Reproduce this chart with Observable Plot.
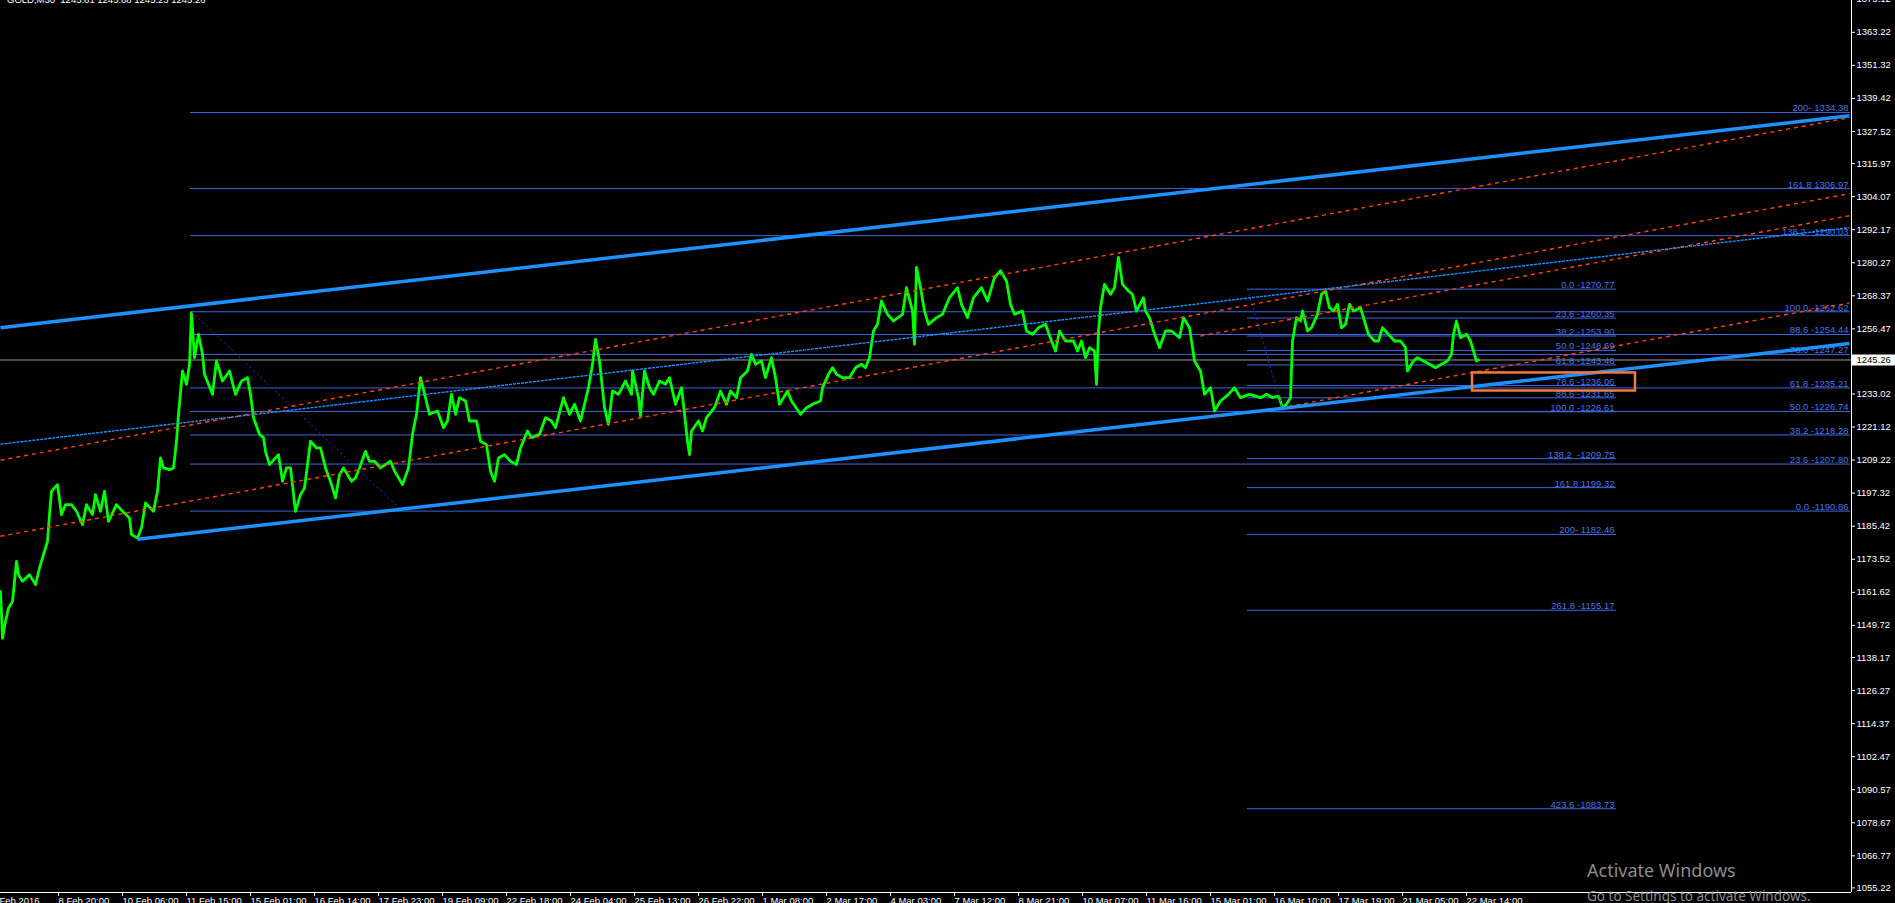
<!DOCTYPE html>
<html><head><meta charset="utf-8">
<script src="https://cdn.jsdelivr.net/npm/d3@7"></script>
<script src="https://cdn.jsdelivr.net/npm/@observablehq/plot@0.6"></script>
<style>
html,body{margin:0;padding:0;background:#000;overflow:hidden;}
#chart{position:relative;width:1895px;height:903px;}
.wm1{position:absolute;left:1587px;top:858px;font:18px "Noto Sans",sans-serif;color:#8c8c8c;white-space:nowrap;}
.wm2{position:absolute;left:1587px;top:887px;font:13.5px "Noto Sans",sans-serif;color:#8c8c8c;white-space:nowrap;}
.ttl{position:absolute;left:7px;top:-6px;font:9.5px "Liberation Sans",sans-serif;color:#fff;white-space:pre;}
</style></head><body>
<div id="chart"></div>
<script>
// ---- data ----
const symbolTitle = "GOLD,M30  1245.81 1245.88 1245.23 1245.26";
const currentPrice = 1245.26;

// bar index (M30 bars from left edge) and closing prices
const barIdx = [0,2,5,8,12,16,18,22,29,35,39,43,47,49,51,57,61,65,71,76,82,86,92,95,100,104,108,116,122,129,131,137,141,145,153,157,160,163,169,173,176,178,182,186,189,191,194,198,202,204,212,216,222,229,235,241,247,250,253,259,263,265,269,278,282,286,290,295,300,304,310,316,320,325,331,335,339,343,351,355,359,365,369,374,380,390,394,402,408,412,416,420,425,429,437,443,447,451,455,459,465,469,476,480,486,490,494,498,504,510,516,520,527,531,539,545,551,555,563,569,574,580,584,588,592,595,599,604,608,612,618,625,631,
632,638,640,644,649,653,659,665,669,675,681,683,687,689,691,698,702,706,714,720,726,730,736,740,747,751,755,761,765,771,775,779,783,787,791,800,806,812,820,822,828,832,836,842,849,855,861,865,869,873,877,881,887,893,902,906,912,914,916,920,924,928,936,942,949,957,961,967,973,981,987,994,1000,1006,1010,1014,1022,1026,1032,1038,1045,1051,1055,1059,1065,1073,1077,1081,1085,1089,1094,1096,1098,1100,1104,1110,1114,1118,1122,1128,1132,1136,1143,1145,1149,1153,1159,1165,1171,1179,1183,1189,1194,1200,1204,1210,1214,1220,1228,1234,1240,1249,1260,
1266,1272,1278,1282,1286,1290,1292,1296,1300,1302,1307,1311,1317,1321,1325,1329,1333,1337,1341,1345,1349,1353,1360,1364,1368,1374,1378,1382,1388,1394,1400,1405,1407,1413,1417,1423,1429,1435,1441,1447,1451,1453,1456,1460,1466,1470,1474,1476,1478];
const price = [1161.9,1145.1,1151.1,1155.9,1158.3,1172.8,1168.0,1165.6,1168.0,1164.4,1170.4,1175.2,1180.0,1189.6,1198.0,1200.4,1189.6,1193.2,1193.2,1190.8,1186.0,1193.2,1189.6,1196.8,1190.8,1198.0,1187.2,1193.2,1190.8,1188.4,1182.4,1181.2,1184.8,1193.8,1190.8,1198.0,1210.0,1206.4,1205.8,1206.4,1216.0,1225.7,1241.3,1236.5,1243.7,1262.3,1246.1,1254.5,1247.3,1240.1,1232.9,1244.9,1237.7,1241.3,1232.9,1237.7,1238.9,1232.9,1224.5,1218.5,1217.3,1212.4,1207.6,1211.2,1201.6,1206.4,1206.4,1190.8,1196.8,1199.2,1216.0,1213.6,1213.6,1206.4,1200.4,1195.6,1204.0,1206.4,1201.6,1202.8,1206.4,1212.4,1208.8,1208.8,1206.4,1208.8,1205.3,1200.4,1206.4,1218.5,1225.7,1238.9,1231.7,1225.7,1226.9,1220.9,1223.3,1232.9,1225.7,1231.7,1230.5,1223.3,1223.3,1216.0,1214.8,1205.2,1201.6,1210.0,1211.2,1208.8,1207.6,1213.6,1219.7,1217.3,1218.5,1224.5,1223.3,1220.9,1231.7,1225.7,1229.3,1223.3,1229.3,1235.3,1243.7,1252.7,1244.9,1228.1,1222.1,1234.1,1232.9,1237.7,1232.9,
1241.3,1231.7,1225.1,1241.3,1235.3,1232.9,1237.7,1236.5,1238.9,1229.3,1235.3,1229.3,1216.0,1211.2,1219.7,1223.3,1219.7,1224.5,1228.1,1234.1,1229.3,1234.1,1231.7,1238.9,1241.3,1247.3,1243.7,1244.9,1238.9,1246.1,1238.9,1229.3,1231.7,1234.1,1230.5,1225.7,1228.1,1229.3,1230.5,1235.3,1240.1,1242.5,1240.1,1238.9,1238.9,1242.5,1243.7,1242.5,1246.1,1255.7,1258.1,1266.5,1261.7,1259.3,1261.7,1271.3,1262.9,1250.9,1278.6,1271.3,1262.9,1258.1,1260.5,1261.7,1267.7,1271.3,1265.3,1260.5,1267.7,1271.3,1266.5,1274.9,1277.4,1273.7,1265.3,1261.7,1262.9,1255.7,1254.5,1256.9,1258.1,1252.1,1248.5,1255.7,1252.1,1252.1,1248.5,1252.1,1246.1,1249.7,1248.5,1236.5,1255.7,1264.1,1272.5,1268.9,1271.3,1282.2,1272.5,1270.1,1268.9,1262.9,1267.7,1262.9,1260.5,1255.7,1249.7,1255.7,1255.7,1253.3,1260.5,1256.9,1244.9,1241.3,1232.9,1235.3,1226.9,1230.5,1232.9,1235.3,1231.7,1232.9,1231.7,
1232.9,1231.7,1232.3,1228.1,1229.3,1231.7,1252.1,1260.5,1259.3,1262.9,1255.7,1256.9,1261.7,1268.9,1270.1,1264.1,1262.9,1265.3,1256.9,1258.1,1265.3,1262.9,1264.1,1259.3,1254.5,1252.1,1252.1,1256.9,1254.5,1252.1,1252.1,1249.7,1241.3,1244.9,1246.1,1244.9,1243.7,1242.5,1243.7,1244.9,1247.3,1254.5,1259.3,1253.3,1254.5,1252.1,1247.3,1244.9,1245.3];

// price axis tick labels
const yTicks = [1375.12,1363.22,1351.32,1339.42,1327.52,1315.97,1304.07,1292.17,1280.27,1268.37,1256.47,1233.02,1221.12,1209.22,1197.32,1185.42,1173.52,1161.62,1149.72,1138.17,1126.27,1114.37,1102.47,1090.57,1078.67,1066.77,1055.22];
// time axis ticks (bar index) and labels
const xTickBars = [-11,56,120,184,248,312,376,440,504,568,632,696,760,824,888,952,1016,1080,1144,1208,1272,1336,1400,1464];
const xLabels = ["5 Feb 2016","8 Feb 20:00","10 Feb 06:00","11 Feb 15:00","15 Feb 01:00","16 Feb 14:00","17 Feb 23:00","19 Feb 09:00","22 Feb 18:00","24 Feb 04:00","25 Feb 13:00","26 Feb 22:00","1 Mar 08:00","2 Mar 17:00","4 Mar 03:00","7 Mar 12:00","8 Mar 21:00","10 Mar 07:00","11 Mar 16:00","15 Mar 01:00","16 Mar 10:00","17 Mar 19:00","21 Mar 05:00","22 Mar 14:00"];

// left Fibonacci (drawn from the 11 Feb high)
const leftFibPrices = [1334.38,1306.97,1290.03,1262.62,1254.44,1247.27,1235.21,1226.74,1218.28,1207.80,1190.86];
const leftFibLabels = ["200- 1334.38","161.8 1306.97","138.2  -1290.03","100.0 -1262.62","88.6 -1254.44","78.6 -1247.27","61.8 -1235.21","50.0 -1226.74","38.2 -1218.28","23.6 -1207.80","0.0 -1190.86"];
const leftFibBars = [190, 1850];
// right Fibonacci (drawn from the 15 Mar swing)
const rightFibPrices = [1270.77,1260.35,1253.90,1248.69,1243.48,1236.06,1231.65,1226.61,1209.75,1199.32,1182.46,1155.17,1083.73];
const rightFibLabels = ["0.0 -1270.77","23.6 -1260.35","38.2 -1253.90","50.0 -1248.69","61.8 -1243.48","78.6 -1236.06","88.6 -1231.65","100.0 -1226.61","138.2  -1209.75","161.8 1199.32","200- 1182.46","261.8 -1155.17","423.6 -1083.73"];
const rightFibBars = [1247, 1616];

// trend lines: start bar, start price, end bar, end price
const channelBar1 = [0, 137];
const channelP1 = [1256.9, 1180.7];
const channelBar2 = [1849, 1849];
const channelP2 = [1333.2, 1251.2];
const orangeBar1 = [0, 0, 1200, 1280];
const orangeP1 = [1209.2, 1181.8, 1253.9, 1228.0];
const orangeBar2 = [1849, 1849, 1849, 1849];
const orangeP2 = [1332.5, 1305.1, 1297.2, 1265.8];
const dotBlueBar = [0, 1849];
const dotBlueP = [1214.97, 1292.9];
const fibDiagBar1 = [191, 1247];
const fibDiagP1 = [1262.62, 1270.77];
const fibDiagBar2 = [402, 1283];
const fibDiagP2 = [1190.86, 1226.61];
// highlighted zone
const boxBars = [1472, 1635];
const boxPrices = [1234.1, 1240.6];

// ---- build ----
const priceData = barIdx.map((b, i) => ({bar: b, price: price[i]}));
const idx = a => a.map((_, i) => i);
const labelOf = new Map(xTickBars.map((b, i) => [b, xLabels[i]]));
const FIB = "#3f66e0";
const FIBTXT = "#4a72ea";
const font = "Liberation Sans, Arial, sans-serif";

const chart = Plot.plot({
  width: 1895, height: 903,
  marginTop: 0, marginRight: 44, marginBottom: 11, marginLeft: 0,
  style: {background: "#000", color: "#fff", fontFamily: font, fontSize: "9.5px", overflow: "visible"},
  x: {domain: [0, 1851], range: [0, 1851], axis: null},
  y: {domain: [1053.57, 1374.67], axis: null},
  marks: [
    Plot.ruleY([currentPrice], {x1: 0, x2: 1851, stroke: "#9a9a9a", strokeWidth: 1}),
    Plot.ruleY(leftFibPrices, {x1: leftFibBars[0], x2: leftFibBars[1], stroke: FIB, strokeWidth: 1}),
    Plot.ruleY(rightFibPrices, {x1: rightFibBars[0], x2: rightFibBars[1], stroke: FIB, strokeWidth: 1}),
    Plot.text(leftFibPrices, {x: leftFibBars[1] - 2, y: d => d, text: (d, i) => leftFibLabels[i], textAnchor: "end", lineAnchor: "bottom", dy: -1, fill: FIBTXT}),
    Plot.text(rightFibPrices, {x: rightFibBars[1] - 2, y: d => d, text: (d, i) => rightFibLabels[i], textAnchor: "end", lineAnchor: "bottom", dy: -1, fill: FIBTXT}),
    Plot.line(priceData, {x: "bar", y: "price", stroke: "#00ff00", strokeWidth: 2.8}),
    Plot.link(idx(fibDiagBar1), {x1: i => fibDiagBar1[i], y1: i => fibDiagP1[i], x2: i => fibDiagBar2[i], y2: i => fibDiagP2[i], stroke: "#1f2fd6", strokeWidth: 1, strokeDasharray: "2,3"}),
    Plot.link(idx(orangeBar1), {x1: i => orangeBar1[i], y1: i => orangeP1[i], x2: i => orangeBar2[i], y2: i => orangeP2[i], stroke: "#ff4500", strokeWidth: 1.4, strokeDasharray: "4,4"}),
    Plot.link([0], {x1: dotBlueBar[0], y1: dotBlueP[0], x2: dotBlueBar[1], y2: dotBlueP[1], stroke: "#1e90ff", strokeWidth: 1.4, strokeDasharray: "3,1"}),
    Plot.link(idx(channelBar1), {x1: i => channelBar1[i], y1: i => channelP1[i], x2: i => channelBar2[i], y2: i => channelP2[i], stroke: "#1e90ff", strokeWidth: 3.5}),
    Plot.rect([0], {x1: boxBars[0], x2: boxBars[1], y1: boxPrices[0], y2: boxPrices[1], fill: "none", stroke: "#f47a3a", strokeWidth: 2.5}),
    Plot.ruleY([1053.57], {x1: 0, x2: 1851, stroke: "#fff", strokeWidth: 1}),
    Plot.ruleX([1851], {stroke: "#fff", strokeWidth: 1}),
    Plot.axisY({anchor: "right", label: null, ticks: yTicks, tickFormat: d => d.toFixed(2), tickSize: 3, tickPadding: 2, color: "#fff"}),
    Plot.axisX({anchor: "bottom", label: null, ticks: xTickBars, tickFormat: d => labelOf.get(d), tickSize: 4, tickPadding: 1, textAnchor: "start", dx: 2, color: "#fff"}),
    Plot.ruleY([currentPrice], {x1: 1852, x2: 1895, stroke: "#fff", strokeWidth: 11}),
    Plot.text([currentPrice], {x: 1856, y: d => d, text: d => d.toFixed(2), textAnchor: "start", fill: "#000"})
  ]
});
const root = document.getElementById("chart");
root.appendChild(chart);
const t = document.createElement("div"); t.className = "ttl"; t.textContent = symbolTitle; root.appendChild(t);
const w1 = document.createElement("div"); w1.className = "wm1"; w1.textContent = "Activate Windows"; root.appendChild(w1);
const w2 = document.createElement("div"); w2.className = "wm2"; w2.textContent = "Go to Settings to activate Windows."; root.appendChild(w2);
</script>
</body></html>
